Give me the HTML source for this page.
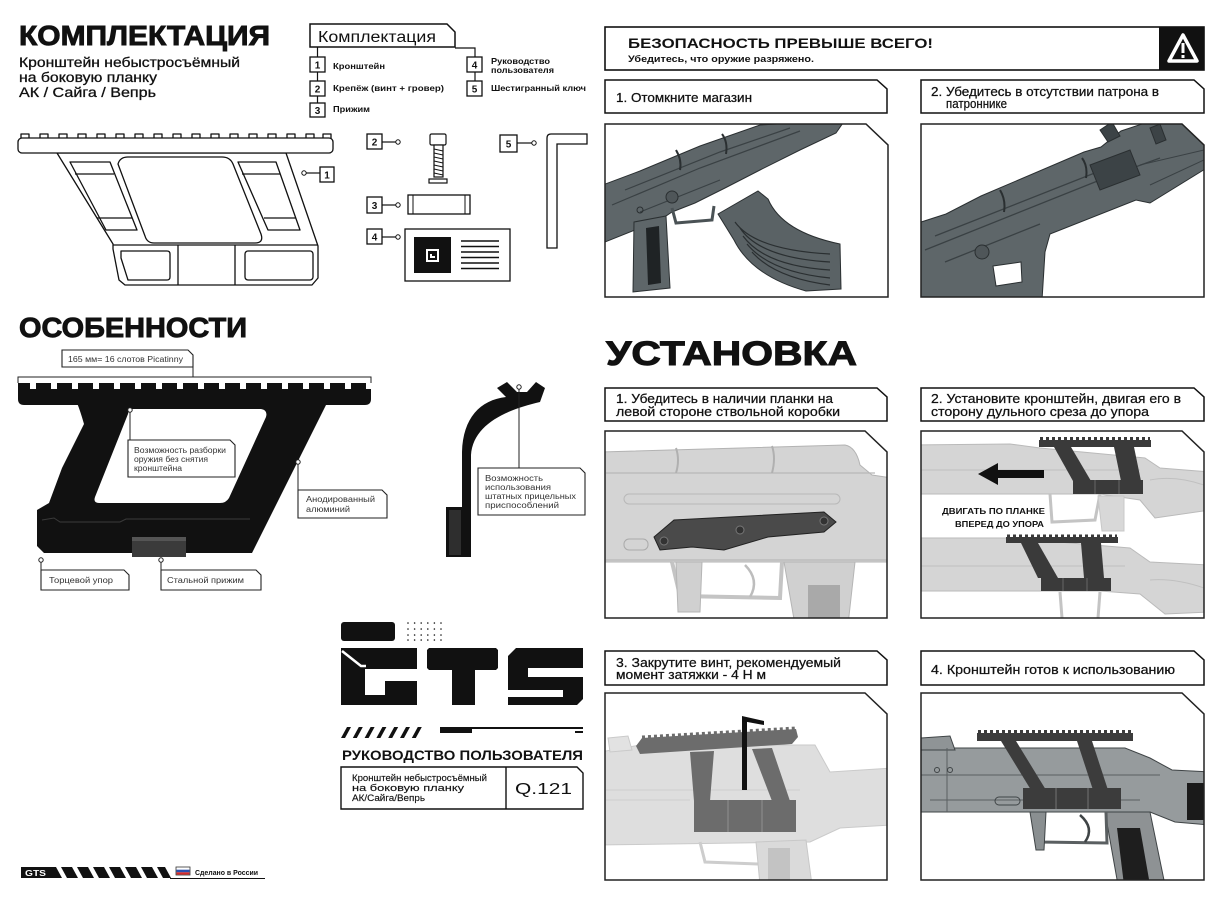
<!DOCTYPE html>
<html><head><meta charset="utf-8">
<style>
html,body{margin:0;padding:0;background:#fff;}
svg{display:block;}
text{font-family:"Liberation Sans","DejaVu Sans",sans-serif;fill:#111;}
.b{font-weight:bold;}
.lb{font-size:8px;fill:#333;}
.st{font-size:12.5px;stroke:#111;stroke-width:0.25;}
.kit{font-size:8.5px;font-weight:bold;}
.num{font-size:10px;font-weight:bold;text-anchor:middle;}
</style></head><body>
<svg width="1226" height="900" viewBox="0 0 1226 900" xmlns="http://www.w3.org/2000/svg">
<defs>
<clipPath id="c1"><path d="M605 124 H866 L888 145 V297 H605 Z"/></clipPath>
<clipPath id="c2"><path d="M921 124 H1182 L1204 145 V297 H921 Z"/></clipPath>
<clipPath id="c3"><path d="M605 431 H865 L887 452 V618 H605 Z"/></clipPath>
<clipPath id="c4"><path d="M921 431 H1182 L1204 452 V618 H921 Z"/></clipPath>
<clipPath id="c5"><path d="M605 693 H865 L887 714 V880 H605 Z"/></clipPath>
<clipPath id="c6"><path d="M921 693 H1182 L1204 714 V880 H921 Z"/></clipPath>
</defs>

<!-- ============ LEFT TOP: КОМПЛЕКТАЦИЯ ============ -->
<text x="19" y="45" font-size="28" class="b" textLength="251" lengthAdjust="spacingAndGlyphs" stroke="#111" stroke-width="0.9">КОМПЛЕКТАЦИЯ</text>
<text x="19" y="67" font-size="14" textLength="221" lengthAdjust="spacingAndGlyphs" stroke="#111" stroke-width="0.3">Кронштейн небыстросъёмный</text>
<text x="19" y="82" font-size="14" textLength="138" lengthAdjust="spacingAndGlyphs" stroke="#111" stroke-width="0.3">на боковую планку</text>
<text x="19" y="97" font-size="14" textLength="137" lengthAdjust="spacingAndGlyphs" stroke="#111" stroke-width="0.3">АК / Сайга / Вепрь</text>

<!-- kit list -->
<path d="M310 24 H447 L455 32 V47 H310 Z" fill="none" stroke="#111" stroke-width="1.5"/>
<text x="318" y="42" font-size="15.5" textLength="118" lengthAdjust="spacingAndGlyphs">Комплектация</text>
<path d="M317.5 47 V57 M317.5 72 V81 M317.5 96 V103 M455 48 H475 V57 M475 72 V81" stroke="#111" stroke-width="1.2" fill="none"/>
<g fill="#fff" stroke="#111" stroke-width="1.3">
<rect x="310" y="57" width="15" height="15"/><rect x="310" y="81" width="15" height="15"/><rect x="310" y="103" width="15" height="14"/>
<rect x="467" y="57" width="15" height="15"/><rect x="467" y="81" width="15" height="15"/>
</g>
<text x="317.5" y="68.5" class="num">1</text><text x="317.5" y="92.5" class="num">2</text><text x="317.5" y="114" class="num">3</text>
<text x="474.5" y="68.5" class="num">4</text><text x="474.5" y="92.5" class="num">5</text>
<text x="333" y="69" class="kit" textLength="52" lengthAdjust="spacingAndGlyphs">Кронштейн</text>
<text x="333" y="91" class="kit" textLength="111" lengthAdjust="spacingAndGlyphs">Крепёж (винт + гровер)</text>
<text x="333" y="112" class="kit" textLength="37" lengthAdjust="spacingAndGlyphs">Прижим</text>
<text x="491" y="64" class="kit" textLength="59" lengthAdjust="spacingAndGlyphs">Руководство</text>
<text x="491" y="73" class="kit" textLength="63" lengthAdjust="spacingAndGlyphs">пользователя</text>
<text x="491" y="91" class="kit" textLength="95" lengthAdjust="spacingAndGlyphs">Шестигранный ключ</text>

<!-- drawing 1: outline bracket -->
<g fill="#fff" stroke="#111" stroke-width="1.3" stroke-linejoin="round">
<rect x="21" y="134" width="8" height="5"/><rect x="40" y="134" width="8" height="5"/><rect x="59" y="134" width="8" height="5"/><rect x="78" y="134" width="8" height="5"/><rect x="97" y="134" width="8" height="5"/><rect x="116" y="134" width="8" height="5"/><rect x="135" y="134" width="8" height="5"/><rect x="154" y="134" width="8" height="5"/><rect x="173" y="134" width="8" height="5"/><rect x="192" y="134" width="8" height="5"/><rect x="211" y="134" width="8" height="5"/><rect x="230" y="134" width="8" height="5"/><rect x="249" y="134" width="8" height="5"/><rect x="268" y="134" width="8" height="5"/><rect x="287" y="134" width="8" height="5"/><rect x="306" y="134" width="8" height="5"/><rect x="323" y="134" width="8" height="5"/>
<path d="M57 153 L113 244 L113 249 L119 280 L125 285 L312 285 L318 278 L318 246 L286 153 Z"/>
<rect x="18" y="138" width="315" height="15" rx="4"/>
<path d="M118 164 Q120 157 128 157 L222 157 Q230 157 233 164 L261 234 Q264 243 255 243 L154 243 Q147 243 145 236 Z"/>
<path d="M70 162 L110 162 L137 230 L106 230 Z" fill="none"/>
<path d="M75 174 L114 174 M97 218 L132 218" fill="none"/>
<path d="M238 162 L276 162 L300 230 L268 230 Z" fill="none"/>
<path d="M242 174 L280 174 M264 218 L296 218" fill="none"/>
<path d="M113 245 H318" fill="none"/>
<path d="M121 251 L167 251 Q170 251 170 254 L170 277 Q170 280 167 280 L128 280 L121 258 Z"/>
<path d="M178 245 V285 M235 245 V285" fill="none"/>
<rect x="245" y="251" width="68" height="29" rx="3"/>
</g>
<!-- callout 1 -->
<path d="M306 173 H320" stroke="#111" stroke-width="1.2"/>
<circle cx="304" cy="173" r="2.2" fill="#fff" stroke="#111" stroke-width="1"/>
<rect x="320" y="167" width="14" height="15" fill="#fff" stroke="#111" stroke-width="1.3"/>
<text x="327" y="178.5" class="num">1</text>
<!-- item 2 screw -->
<rect x="367" y="134" width="15" height="15" fill="#fff" stroke="#111" stroke-width="1.3"/><text x="374.5" y="145.5" class="num">2</text>
<path d="M382 142 H396" stroke="#111" stroke-width="1.2"/><circle cx="398" cy="142" r="2.2" fill="#fff" stroke="#111"/>
<g fill="#fff" stroke="#111" stroke-width="1.2">
<rect x="430" y="134" width="16" height="11" rx="1.5"/>
<rect x="434" y="145" width="9" height="32"/>
<path d="M434 149 L443 151 M434 153 L443 155 M434 157 L443 159 M434 161 L443 163 M434 165 L443 167 M434 169 L443 171 M434 173 L443 175" fill="none" stroke-width="0.9"/>
<rect x="429" y="179" width="18" height="4"/>
</g>
<!-- item 3 clamp -->
<rect x="367" y="197" width="15" height="16" fill="#fff" stroke="#111" stroke-width="1.3"/><text x="374.5" y="209" class="num">3</text>
<path d="M382 205 H396" stroke="#111" stroke-width="1.2"/><circle cx="398" cy="205" r="2.2" fill="#fff" stroke="#111"/>
<rect x="408" y="195" width="62" height="19" fill="#fff" stroke="#111" stroke-width="1.3"/>
<path d="M413 195 V214 M465 195 V214" stroke="#111" stroke-width="1"/>
<!-- item 4 card -->
<rect x="367" y="229" width="15" height="15" fill="#fff" stroke="#111" stroke-width="1.3"/><text x="374.5" y="240.5" class="num">4</text>
<path d="M382 237 H396" stroke="#111" stroke-width="1.2"/><circle cx="398" cy="237" r="2.2" fill="#fff" stroke="#111"/>
<rect x="405" y="229" width="105" height="52" fill="#fff" stroke="#111" stroke-width="1.3"/>
<rect x="414" y="237" width="37" height="36" fill="#111"/>
<path d="M427 250 H438 V261 H427 Z M431 254 V257 H435" fill="none" stroke="#fff" stroke-width="2"/>
<path d="M461 241 H499 M461 246.5 H499 M461 252 H499 M461 257.5 H499 M461 263 H499 M461 268.5 H499" stroke="#111" stroke-width="1.6"/>
<!-- item 5 hex key -->
<rect x="500" y="135" width="17" height="17" fill="#fff" stroke="#111" stroke-width="1.3"/><text x="508.5" y="147.5" class="num">5</text>
<path d="M517 143 H532" stroke="#111" stroke-width="1.2"/><circle cx="534" cy="143" r="2.2" fill="#fff" stroke="#111"/>
<path d="M547 138 Q547 134 551 134 L587 134 L587 144 L557 144 L557 248 L547 248 Z" fill="#fff" stroke="#111" stroke-width="1.3"/>

<!-- ============ ОСОБЕННОСТИ ============ -->
<text x="19" y="337" font-size="28" class="b" textLength="228" lengthAdjust="spacingAndGlyphs" stroke="#111" stroke-width="0.9">ОСОБЕННОСТИ</text>
<path d="M62 350 H188 L193 355 V367 H62 Z" fill="#fff" stroke="#222" stroke-width="1.1"/>
<text x="68" y="362" class="lb" textLength="115" lengthAdjust="spacingAndGlyphs">165 мм= 16 слотов Picatinny</text>
<path d="M193 367 V377 M18 383 V377 H371 V383" fill="none" stroke="#222" stroke-width="1"/>
<!-- black bracket -->
<path d="M18 386.5 H371" stroke="#111" stroke-width="7" stroke-dasharray="15 6" stroke-dashoffset="3"/>
<path d="M18 389 L18 399 Q18 405 24 405 L365 405 Q371 405 371 399 L371 389 Z" fill="#111"/>
<path fill="#111" fill-rule="evenodd" d="M77 403 L327 403 L252 553 L44 553 L37 546 L37 510 L49 503 L62 468 L84 424 Q80 410 77 403 Z M132 409 L261 409 Q268 410 266 417 L229 498 Q226 503 220 503 L99 503 Q93 503 95 497 L128 414 Q129 409 132 409 Z"/>
<path d="M42 520 L54 518 L60 522 L120 522 L126 519 L250 519" fill="none" stroke="#3a3a3a" stroke-width="1"/>
<rect x="151" y="503" width="15" height="5" fill="#111"/>
<rect x="132" y="537" width="54" height="20" fill="#3b3b3b"/>
<rect x="132" y="537" width="54" height="4" fill="#555"/>
<!-- side profile -->
<path fill="#111" d="M497 388 L507 382 L517 392 L527 392 L536 382 L545 388 L540 402 C505 410 473 425 471 455 L471 557 L462 557 L462 452 C463 418 480 400 506 397 Z"/>
<rect x="446" y="507" width="25" height="50" fill="#111"/>
<rect x="449" y="510" width="12" height="45" fill="#2e2e2e"/>
<!-- callouts -->
<g stroke="#222" stroke-width="1" fill="none">
<path d="M130 412 V440 M298 464 V490 M41 562 V570 M161 562 V570 M519 389 V468"/>
</g>
<g fill="#fff" stroke="#222" stroke-width="1">
<circle cx="130" cy="410" r="2.2"/><circle cx="298" cy="462" r="2.2"/><circle cx="41" cy="560" r="2.2"/><circle cx="161" cy="560" r="2.2"/><circle cx="519" cy="387" r="2.2"/>
</g>
<g fill="#fff" stroke="#222" stroke-width="1.1">
<path d="M128 440 H230 L235 445 V477 H128 Z"/>
<path d="M298 490 H382 L387 495 V518 H298 Z"/>
<path d="M41 570 H124 L129 575 V590 H41 Z"/>
<path d="M161 570 H256 L261 575 V590 H161 Z"/>
<path d="M478 468 H580 L585 473 V515 H478 Z"/>
</g>
<text x="134" y="453" class="lb" textLength="92" lengthAdjust="spacingAndGlyphs">Возможность разборки</text>
<text x="134" y="462" class="lb" textLength="74" lengthAdjust="spacingAndGlyphs">оружия без снятия</text>
<text x="134" y="471" class="lb" textLength="48" lengthAdjust="spacingAndGlyphs">кронштейна</text>
<text x="306" y="502" class="lb" textLength="69" lengthAdjust="spacingAndGlyphs">Анодированный</text>
<text x="306" y="512" class="lb" textLength="44" lengthAdjust="spacingAndGlyphs">алюминий</text>
<text x="49" y="583" class="lb" textLength="64" lengthAdjust="spacingAndGlyphs">Торцевой упор</text>
<text x="167" y="583" class="lb" textLength="77" lengthAdjust="spacingAndGlyphs">Стальной прижим</text>
<text x="485" y="481" class="lb" textLength="58" lengthAdjust="spacingAndGlyphs">Возможность</text>
<text x="485" y="490" class="lb" textLength="66" lengthAdjust="spacingAndGlyphs">использования</text>
<text x="485" y="499" class="lb" textLength="91" lengthAdjust="spacingAndGlyphs">штатных прицельных</text>
<text x="485" y="508" class="lb" textLength="74" lengthAdjust="spacingAndGlyphs">приспособлений</text>

<!-- ============ GTS LOGO ============ -->
<rect x="341" y="622" width="54" height="19" rx="3" fill="#111"/>
<g fill="#111">
<circle cx="408" cy="623" r="0.8"/><circle cx="414.6" cy="623" r="0.8"/><circle cx="421.2" cy="623" r="0.8"/><circle cx="427.8" cy="623" r="0.8"/><circle cx="434.4" cy="623" r="0.8"/><circle cx="441" cy="623" r="0.8"/>
<circle cx="408" cy="629" r="0.8"/><circle cx="414.6" cy="629" r="0.8"/><circle cx="421.2" cy="629" r="0.8"/><circle cx="427.8" cy="629" r="0.8"/><circle cx="434.4" cy="629" r="0.8"/><circle cx="441" cy="629" r="0.8"/>
<circle cx="408" cy="635" r="0.8"/><circle cx="414.6" cy="635" r="0.8"/><circle cx="421.2" cy="635" r="0.8"/><circle cx="427.8" cy="635" r="0.8"/><circle cx="434.4" cy="635" r="0.8"/><circle cx="441" cy="635" r="0.8"/>
<circle cx="408" cy="640" r="0.8"/><circle cx="414.6" cy="640" r="0.8"/><circle cx="421.2" cy="640" r="0.8"/><circle cx="427.8" cy="640" r="0.8"/><circle cx="434.4" cy="640" r="0.8"/><circle cx="441" cy="640" r="0.8"/>
</g>
<path fill="#111" fill-rule="evenodd" d="M341 648 H417 V705 H341 Z M365 669 H417 V681 H385 V695 H365 Z"/>
<path d="M342 651 L361 666 H366" stroke="#fff" stroke-width="2.5" fill="none"/>
<path fill="#111" d="M427 650 L429 648 H496 L498 650 V668 L496 670 H475 V705 H452 V670 H429 L427 668 Z"/>
<path fill="#111" d="M516 648 H583 V668 H528 V677 H583 V699 L577 705 H508 V697 H563 V690 H508 V656 Z"/>
<g fill="#111">
<path d="M347 727 L351 727 L345 738 L341 738 Z"/><path d="M358.8 727 L362.8 727 L356.8 738 L352.8 738 Z"/><path d="M370.6 727 L374.6 727 L368.6 738 L364.6 738 Z"/><path d="M382.4 727 L386.4 727 L380.4 738 L376.4 738 Z"/><path d="M394.2 727 L398.2 727 L392.2 738 L388.2 738 Z"/><path d="M406 727 L410 727 L404 738 L400 738 Z"/><path d="M417.8 727 L421.8 727 L415.8 738 L411.8 738 Z"/>
<rect x="440" y="727" width="32" height="6"/><rect x="472" y="727" width="111" height="2"/><rect x="575" y="731" width="8" height="2"/>
</g>
<text x="342" y="760" font-size="14" class="b" textLength="241" lengthAdjust="spacingAndGlyphs">РУКОВОДСТВО ПОЛЬЗОВАТЕЛЯ</text>
<path d="M341 767 H577 L583 773 V809 H341 Z M506 767 V809" fill="none" stroke="#111" stroke-width="1.4"/>
<text x="352" y="781" font-size="9.5" textLength="135" lengthAdjust="spacingAndGlyphs" stroke="#111" stroke-width="0.15">Кронштейн небыстросъёмный</text>
<text x="352" y="791" font-size="9.5" textLength="112" lengthAdjust="spacingAndGlyphs" stroke="#111" stroke-width="0.15">на боковую планку</text>
<text x="352" y="801" font-size="9.5" textLength="73" lengthAdjust="spacingAndGlyphs" stroke="#111" stroke-width="0.15">АК/Сайга/Вепрь</text>
<text x="515" y="794" font-size="16" textLength="57" lengthAdjust="spacingAndGlyphs">Q.121</text>

<!-- footer -->
<path d="M21 867 H165 L171 878 H21 Z" fill="#111"/>
<g fill="#fff">
<path d="M56 867 H61 L67 878 H62 Z"/><path d="M72 867 H77 L83 878 H78 Z"/><path d="M88 867 H93 L99 878 H94 Z"/><path d="M104 867 H109 L115 878 H110 Z"/><path d="M120 867 H125 L131 878 H126 Z"/><path d="M136 867 H141 L147 878 H142 Z"/><path d="M152 867 H157 L163 878 H158 Z"/>
</g>
<text x="25" y="876" font-size="8" class="b" style="fill:#fff" textLength="21" lengthAdjust="spacingAndGlyphs">GTS</text>
<path d="M170 878.5 H265" stroke="#111" stroke-width="1"/>
<rect x="176" y="867" width="14" height="8" fill="#fff" stroke="#333" stroke-width="0.8"/>
<rect x="176.5" y="869.7" width="13" height="2.6" fill="#2a4fb0"/><rect x="176.5" y="872.3" width="13" height="2.3" fill="#d52b2b"/>
<text x="195" y="875" font-size="7" class="b" textLength="63" lengthAdjust="spacingAndGlyphs">Сделано в России</text>

<!-- ============ RIGHT: SAFETY ============ -->
<rect x="605" y="27" width="599" height="43" fill="#fff" stroke="#111" stroke-width="1.6"/>
<rect x="1159" y="27" width="45" height="43" fill="#111"/>
<path d="M1183 35 L1197 61 H1169 Z" fill="none" stroke="#fff" stroke-width="3.5" stroke-linejoin="round"/>
<rect x="1181.5" y="43" width="3" height="10" fill="#fff"/><rect x="1181.5" y="55" width="3" height="3" fill="#fff"/>
<text x="628" y="48" font-size="14" class="b" textLength="305" lengthAdjust="spacingAndGlyphs">БЕЗОПАСНОСТЬ ПРЕВЫШЕ  ВСЕГО!</text>
<text x="628" y="62" font-size="9" class="b" textLength="186" lengthAdjust="spacingAndGlyphs">Убедитесь, что оружие разряжено.</text>

<g fill="#fff" stroke="#111" stroke-width="1.5">
<path d="M605 80 H877 L887 89 V113 H605 Z"/>
<path d="M921 80 H1194 L1204 89 V113 H921 Z"/>
<path d="M605 388 H877 L887 397 V421 H605 Z"/>
<path d="M921 388 H1194 L1204 397 V421 H921 Z"/>
<path d="M605 651 H877 L887 660 V685 H605 Z"/>
<path d="M921 651 H1194 L1204 660 V685 H921 Z"/>
</g>
<text x="616" y="102" class="st" textLength="136" lengthAdjust="spacingAndGlyphs">1.  Отомкните магазин</text>
<text x="931" y="96" class="st" textLength="228" lengthAdjust="spacingAndGlyphs">2. Убедитесь в отсутствии патрона в</text>
<text x="946" y="108" class="st" textLength="61" lengthAdjust="spacingAndGlyphs">патроннике</text>

<text x="606" y="365" font-size="34" class="b" textLength="251" lengthAdjust="spacingAndGlyphs" stroke="#111" stroke-width="1">УСТАНОВКА</text>
<text x="616" y="403" class="st" textLength="217" lengthAdjust="spacingAndGlyphs">1. Убедитесь в наличии планки на</text>
<text x="616" y="416" class="st" textLength="224" lengthAdjust="spacingAndGlyphs">левой стороне ствольной коробки</text>
<text x="931" y="403" class="st" textLength="250" lengthAdjust="spacingAndGlyphs">2. Установите кронштейн, двигая его в</text>
<text x="931" y="416" class="st" textLength="218" lengthAdjust="spacingAndGlyphs">сторону дульного среза до упора</text>
<text x="616" y="667" class="st" textLength="225" lengthAdjust="spacingAndGlyphs">3. Закрутите винт, рекомендуемый</text>
<text x="616" y="679" class="st" textLength="150" lengthAdjust="spacingAndGlyphs">момент затяжки - 4 Н м</text>
<text x="931" y="674" class="st" textLength="244" lengthAdjust="spacingAndGlyphs">4. Кронштейн готов к использованию</text>

<!-- photo 1 -->
<g clip-path="url(#c1)">
<rect x="605" y="124" width="283" height="173" fill="#fff"/>
<path d="M600 186 L640 171 L700 146 L760 125 L845 120 L836 133 L800 150 L760 170 L725 188 L695 203 L672 212 L660 220 L640 228 L600 244 Z" fill="#5e6669" stroke="#2a2f31"/>
<path d="M612 205 L700 168 L800 131 M625 190 L720 152 L790 128 M640 212 L720 180" fill="none" stroke="#3a4144" stroke-width="1.2"/>
<path d="M676 150 Q682 160 680 170 M722 134 Q728 142 726 154" fill="none" stroke="#2a2f31" stroke-width="2"/>
<circle cx="672" cy="197" r="6" fill="#4f5659" stroke="#2a2f31"/>
<circle cx="640" cy="210" r="3" fill="none" stroke="#2a2f31"/>
<path d="M672 208 L676 223 L712 220 L714 206" fill="none" stroke="#4a5255" stroke-width="3"/>
<path d="M634 222 L666 216 L670 288 L633 292 Z" fill="#5e6669" stroke="#2a2f31"/>
<path d="M646 228 L659 226 L661 283 L648 285 Z" fill="#1f2325"/>
<path d="M718 214 L758 191 L768 199 Q782 232 840 244 L841 289 L806 291 Q752 276 734 240 Z" fill="#5a6265" stroke="#2a2f31"/>
<path d="M740 228 Q760 258 830 262 M743 236 Q765 266 830 270 M747 244 Q770 272 830 278 M752 252 Q775 278 830 285 M735 222 Q755 250 830 254" fill="none" stroke="#2a2f31" stroke-width="1.2"/>
</g>
<!-- photo 2 -->
<g clip-path="url(#c2)">
<rect x="921" y="124" width="283" height="173" fill="#fff"/>
<path d="M915 224 L946 214 L981 196 L1084 152 L1101 147 L1121 131 L1154 120 L1210 120 L1210 166 L1150 203 L1136 200 L1050 234 L1045 252 L1042 300 L915 300 Z" fill="#5e6669" stroke="#2a2f31"/>
<path d="M925 250 L1100 180 L1160 158 M935 236 L1120 163 M945 262 L1040 224" fill="none" stroke="#3a4144" stroke-width="1.3"/>
<path d="M1000 190 Q1006 200 1004 212 M1082 158 Q1088 166 1086 178" fill="none" stroke="#2a2f31" stroke-width="2"/>
<path d="M1090 165 L1130 150 L1140 175 L1100 190 Z" fill="#3c4346" stroke="#2a2f31"/>
<path d="M993 266 L1021 262 L1022 282 L996 286 Z" fill="#fff" stroke="#2a2f31"/>
<circle cx="982" cy="252" r="7" fill="#4f5659" stroke="#2a2f31"/>
<path d="M1100 130 L1112 122 L1120 136 L1108 142 Z M1150 128 L1160 124 L1166 140 L1156 144 Z" fill="#3c4346" stroke="#2a2f31"/>
<path d="M1140 165 L1204 150 M1150 185 L1204 160" fill="none" stroke="#3a4144"/>
</g>
<!-- photo 3 -->
<g clip-path="url(#c3)">
<rect x="605" y="431" width="283" height="187" fill="#fff"/>
<path d="M600 452 L845 445 Q856 447 860 465 L872 475 L892 478 V562 H600 Z" fill="#d4d4d4" stroke="#b3b3b3"/>
<path d="M606 473 H875 M606 560 H887" fill="none" stroke="#b8b8b8" stroke-width="1.2"/>
<path d="M676 448 Q680 460 676 473 M772 446 Q776 458 772 473" fill="none" stroke="#b0b0b0" stroke-width="2"/>
<rect x="624" y="494" width="216" height="10" rx="5" fill="none" stroke="#b8b8b8"/>
<rect x="624" y="539" width="24" height="11" rx="5" fill="none" stroke="#aaa"/>
<path d="M672 562 L680 596 L780 598 L782 562" fill="none" stroke="#c4c4c4" stroke-width="4"/>
<path d="M745 565 Q760 580 750 597" fill="none" stroke="#bdbdbd" stroke-width="2.5"/>
<path d="M676 562 L702 562 L700 612 L678 612 Z" fill="#d0d0d0" stroke="#b5b5b5"/>
<path d="M784 562 L855 562 L848 625 L795 625 Z" fill="#d0d0d0" stroke="#b5b5b5"/>
<rect x="808" y="585" width="32" height="40" fill="#a9a9a9"/>
<path d="M654 537 L674 520 L824 512 L836 522 L824 532 L768 537 L724 550 L692 547 L660 550 Z" fill="#4a4a4a" stroke="#222"/>
<circle cx="664" cy="541" r="4" fill="#333" stroke="#777"/><circle cx="740" cy="530" r="4" fill="#333" stroke="#777"/><circle cx="824" cy="521" r="4" fill="#333" stroke="#777"/>
</g>
<!-- photo 4 -->
<g clip-path="url(#c4)">
<rect x="921" y="431" width="283" height="187" fill="#fff"/>
<path d="M915 445 L1010 444 L1040 448 L1145 458 L1160 468 L1210 472 L1210 510 L1155 518 L1140 500 L1100 494 L915 494 Z" fill="#d5d5d5" stroke="#bababa"/>
<path d="M1050 494 L1052 522 L1095 520 L1100 494" fill="none" stroke="#c4c4c4" stroke-width="3"/>
<path d="M1098 496 L1124 496 L1124 531 L1102 531 Z" fill="#d8d8d8" stroke="#c8c8c8"/>
<path d="M921 470 H1140 M1150 480 Q1175 475 1204 485" fill="none" stroke="#c0c0c0"/>
<path d="M915 538 L1010 538 L1130 548 L1150 562 L1210 565 L1210 612 L1165 614 L1140 594 L1100 591 L915 591 Z" fill="#d5d5d5" stroke="#bababa"/>
<path d="M921 566 H1125 M1150 580 Q1175 578 1204 588" fill="none" stroke="#c0c0c0"/>
<path d="M1060 592 L1062 618 M1100 592 L1098 618" fill="none" stroke="#c4c4c4" stroke-width="3"/>
<g fill="#3a3a3a">
<path d="M1040 438.5 H1150" stroke="#3a3a3a" stroke-width="3" stroke-dasharray="3 3"/>
<rect x="1039" y="440" width="112" height="7"/>
<path d="M1054 447 L1071 447 L1091 481 L1073 481 Z"/><path d="M1114 447 L1134 447 L1141 481 L1121 481 Z"/>
<rect x="1073" y="480" width="70" height="14"/>
<path d="M1007 536 H1117" stroke="#3a3a3a" stroke-width="3" stroke-dasharray="3 3"/>
<rect x="1006" y="537" width="112" height="6"/>
<path d="M1021 543 L1038 543 L1058 578 L1038 578 Z"/><path d="M1081 543 L1101 543 L1104 578 L1084 578 Z"/>
<rect x="1041" y="578" width="70" height="13"/>
</g>
<path d="M1095 480 V494 M1119 480 V494 M1063 578 V591 M1087 578 V591" stroke="#666" stroke-width="1"/>
<path d="M978 474 L998 463 L998 470 L1044 470 L1044 478 L998 478 L998 485 Z" fill="#111"/>
<text x="942" y="514" font-size="8.5" class="b" textLength="103" lengthAdjust="spacingAndGlyphs">ДВИГАТЬ ПО ПЛАНКЕ</text>
<text x="955" y="527" font-size="8.5" class="b" textLength="89" lengthAdjust="spacingAndGlyphs">ВПЕРЕД ДО УПОРА</text>
</g>
<!-- photo 5 -->
<g clip-path="url(#c5)">
<rect x="605" y="693" width="283" height="187" fill="#fff"/>
<path d="M600 752 L640 745 L815 745 L830 772 L892 768 V825 L840 828 L810 842 L600 845 Z" fill="#dedede" stroke="#cacaca"/>
<path d="M608 738 L628 736 L632 750 L610 752 Z" fill="#e2e2e2" stroke="#cacaca"/>
<path d="M606 790 H800 M606 800 H690" fill="none" stroke="#cfcfcf"/>
<path d="M700 842 L705 862 L758 864" fill="none" stroke="#cdcdcd" stroke-width="3"/>
<path d="M756 842 L806 840 L812 885 L760 885 Z" fill="#dadada" stroke="#c8c8c8"/>
<rect x="768" y="848" width="22" height="37" fill="#c3c3c3"/>
<g fill="#6c6c6c">
<path d="M642 737 L796 728" stroke="#6c6c6c" stroke-width="3" stroke-dasharray="3 3"/>
<path d="M636 746 L642 738 L796 729 L798 737 L792 744 L640 754 Z"/>
<path d="M690 752 L714 751 L710 801 L694 801 Z"/><path d="M752 749 L772 748 L790 801 L772 801 Z"/>
<rect x="694" y="800" width="102" height="32"/>
</g>
<path d="M728 800 V832 M762 800 V832" stroke="#8a8a8a" stroke-width="1.2"/>
<rect x="742" y="718" width="5" height="72" fill="#111"/>
<path d="M742 716 L764 721 L764 725 L742 721 Z" fill="#111"/>
</g>
<!-- photo 6 -->
<g clip-path="url(#c6)">
<rect x="921" y="693" width="283" height="187" fill="#fff"/>
<path d="M915 748 L1125 748 L1150 758 L1172 770 L1210 772 V825 L1175 822 L1150 812 L915 812 Z" fill="#969b9d" stroke="#3f4446"/>
<path d="M921 738 L950 736 L955 750 L921 750 Z" fill="#8f9496" stroke="#3f4446"/>
<path d="M921 775 H1160 M930 800 H1140 M947 748 V812" fill="none" stroke="#5a5f61"/>
<circle cx="937" cy="770" r="2.5" fill="none" stroke="#3f4446"/><circle cx="950" cy="770" r="2.5" fill="none" stroke="#3f4446"/>
<rect x="995" y="797" width="25" height="8" rx="4" fill="none" stroke="#3f4446"/>
<circle cx="1035" cy="800" r="5" fill="none" stroke="#3f4446"/>
<rect x="1187" y="783" width="23" height="37" fill="#1a1a1a"/>
<path d="M1105 812 L1150 812 L1165 885 L1118 885 Z" fill="#8e9294" stroke="#3f4446"/>
<path d="M1117 828 L1140 828 L1150 885 L1124 885 Z" fill="#1e1e1e"/>
<path d="M1035 812 L1040 842 L1107 843 L1106 812" fill="none" stroke="#5a5f61" stroke-width="3"/>
<path d="M1080 815 Q1095 828 1085 842" fill="none" stroke="#3f4446" stroke-width="2.5"/>
<path d="M1030 812 L1046 812 L1044 850 L1036 850 Z" fill="#8a8f91" stroke="#3f4446"/>
<g fill="#3c3c3c">
<path d="M978 731.5 H1132" stroke="#3c3c3c" stroke-width="3" stroke-dasharray="3 3"/>
<rect x="977" y="733" width="156" height="8"/>
<path d="M1001 741 L1016 741 L1046 790 L1031 790 Z"/><path d="M1077 741 L1092 741 L1108 790 L1093 790 Z"/>
<rect x="1023" y="788" width="98" height="21"/>
</g>
<path d="M1056 788 V809 M1088 788 V809" stroke="#6a6a6a" stroke-width="1.2"/>
</g>
<!-- photo frames -->
<g fill="none" stroke="#222" stroke-width="1.5">
<path d="M605 124 H866 L888 145 V297 H605 Z"/>
<path d="M921 124 H1182 L1204 145 V297 H921 Z"/>
<path d="M605 431 H865 L887 452 V618 H605 Z"/>
<path d="M921 431 H1182 L1204 452 V618 H921 Z"/>
<path d="M605 693 H865 L887 714 V880 H605 Z"/>
<path d="M921 693 H1182 L1204 714 V880 H921 Z"/>
</g>
</svg>
</body></html>
